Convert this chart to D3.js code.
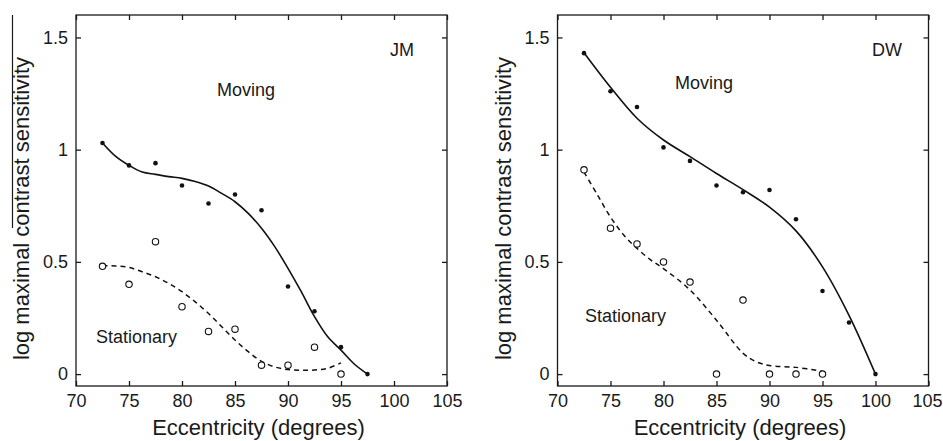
<!DOCTYPE html>
<html>
<head>
<meta charset="utf-8">
<script src="https://cdn.jsdelivr.net/npm/d3@7"></script>
<style>
  body { margin: 0; background: #fff; }
  svg { display: block; font-family: "Liberation Sans", Arial, sans-serif; }
  .tick text { font-family: "Liberation Sans", Arial, sans-serif; font-size: 18px; fill: #1a1a1a; }
  .tick line { stroke: #1a1a1a; stroke-width: 1.3; }
  .frame { fill: none; stroke: #1a1a1a; stroke-width: 1.3; }
  .axis-title { font-size: 22px; fill: #1a1a1a; }
  .note { font-size: 18px; fill: #1a1a1a; }
</style>
</head>
<body>
<svg id="chart" width="943" height="441"></svg>
<script>
// Tick labels
const xTicks = [70, 75, 80, 85, 90, 95, 100, 105];
const yTicks = [0, 0.5, 1, 1.5];

// Eccentricity (deg) of the measurements
const eccentricity = [72.5, 75, 77.5, 80, 82.5, 85, 87.5, 90, 92.5, 95, 97.5, 100];

// Observer JM
const jmMoving     = [1.03, 0.93, 0.94, 0.84, 0.76, 0.80, 0.73, 0.39, 0.28, 0.12, 0.0];
const jmStationary = [0.48, 0.40, 0.59, 0.30, 0.19, 0.20, 0.04, 0.04, 0.12, 0.0];
// fitted curves
const jmMovingFitX = [72.5, 73.75, 75, 76.25, 77.5, 78.75, 80, 81.25, 82.5, 83.75, 85, 86.25, 87.5, 88.75, 90, 91.25, 92.5, 93.75, 95, 96.25, 97.5];
const jmMovingFit  = [1.03, 0.97, 0.93, 0.90, 0.89, 0.88, 0.872, 0.858, 0.838, 0.805, 0.768, 0.716, 0.65, 0.568, 0.471, 0.367, 0.256, 0.166, 0.107, 0.045, 0.0];
const jmStatFitX   = [72.5, 73.75, 75, 76.25, 77.5, 78.75, 80, 81.25, 82.5, 83.75, 85, 86.25, 87.5, 88.75, 90, 91.25, 92.5, 93.75, 95];
const jmStatFit    = [0.483, 0.482, 0.475, 0.456, 0.434, 0.404, 0.367, 0.322, 0.27, 0.211, 0.152, 0.10, 0.057, 0.032, 0.02, 0.017, 0.018, 0.026, 0.05];

// Observer DW
const dwMoving     = [1.43, 1.26, 1.19, 1.01, 0.95, 0.84, 0.81, 0.82, 0.69, 0.37, 0.23, 0.0];
const dwStationary = [0.91, 0.65, 0.58, 0.50, 0.41, 0.0, 0.33, 0.0, 0.0, 0.0];
const dwMovingFitX = [72.5, 75, 77.5, 80, 82.5, 85, 87.5, 90, 92.5, 95, 97.5, 100];
const dwMovingFit  = [1.432, 1.278, 1.14, 1.043, 0.969, 0.894, 0.822, 0.744, 0.638, 0.478, 0.262, 0.0];
const dwStatFitX   = [72.5, 73.75, 75, 76.25, 77.5, 78.75, 80, 82.5, 85, 87.5, 88.75, 90, 92.5, 95];
const dwStatFit    = [0.90, 0.80, 0.70, 0.62, 0.56, 0.51, 0.47, 0.375, 0.24, 0.093, 0.055, 0.038, 0.03, 0.012];

const zip = (xs, ys) => ys.map((v, i) => ({x: xs[i], y: v}));

class EccentricityPanel {

  constructor(_config, _data) {
    this.config = {
      svg: _config.svg,
      left: _config.left,
      top: _config.top || 15,
      width: _config.width || 371,
      height: _config.height || 371,
      labels: _config.labels
    };
    this.data = _data;
    this.initVis();
  }

  initVis() {
    let vis = this;

    vis.xScale = d3.scaleLinear().domain([70, 105]).range([0, vis.config.width]);
    vis.yScale = d3.scaleLinear().domain([-0.053, 1.6]).range([vis.config.height, 0]);

    vis.chart = vis.config.svg.append('g')
      .attr('transform', `translate(${vis.config.left},${vis.config.top})`);

    // inward ticks on all four sides
    const fmt = d => String(d);
    vis.xAxis = d3.axisBottom(vis.xScale).tickValues(xTicks).tickFormat(fmt)
      .tickSizeInner(-5).tickSizeOuter(0).tickPadding(8);
    vis.xAxisTop = d3.axisTop(vis.xScale).tickValues(xTicks).tickFormat('')
      .tickSizeInner(-5).tickSizeOuter(0);
    vis.yAxis = d3.axisLeft(vis.yScale).tickValues(yTicks).tickFormat(fmt)
      .tickSizeInner(-5).tickSizeOuter(0).tickPadding(8);
    vis.yAxisRight = d3.axisRight(vis.yScale).tickValues(yTicks).tickFormat('')
      .tickSizeInner(-5).tickSizeOuter(0);

    vis.chart.append('g').attr('transform', `translate(0,${vis.config.height})`).call(vis.xAxis);
    vis.chart.append('g').call(vis.xAxisTop);
    vis.chart.append('g').call(vis.yAxis);
    vis.chart.append('g').attr('transform', `translate(${vis.config.width},0)`).call(vis.yAxisRight);
    vis.chart.selectAll('.domain').remove();
    vis.chart.selectAll('.tick text')
      .attr('font-family', null).attr('font-size', null);

    vis.chart.append('rect')
      .attr('class', 'frame')
      .attr('width', vis.config.width)
      .attr('height', vis.config.height);

    // Axis titles
    vis.chart.append('text')
      .attr('class', 'axis-title')
      .attr('text-anchor', 'middle')
      .attr('x', vis.config.width / 2 - 3)
      .attr('y', vis.config.height + 49)
      .text('Eccentricity (degrees)');

    vis.chart.append('text')
      .attr('class', 'axis-title')
      .attr('text-anchor', 'middle')
      .attr('transform', `translate(-47,${vis.config.height / 2 + 8}) rotate(-90)`)
      .text('log maximal contrast sensitivity');
  }

  renderVis() {
    let vis = this;
    const line = d3.line()
      .x(d => vis.xScale(d.x))
      .y(d => vis.yScale(d.y))
      .curve(d3.curveCatmullRom.alpha(0.5));

    vis.chart.append('path')
      .datum(vis.data.movingFit)
      .attr('d', line)
      .attr('fill', 'none')
      .attr('stroke', '#111')
      .attr('stroke-width', 1.6);

    vis.chart.append('path')
      .datum(vis.data.stationaryFit)
      .attr('d', line)
      .attr('fill', 'none')
      .attr('stroke', '#111')
      .attr('stroke-width', 1.5)
      .attr('stroke-dasharray', '5,4');

    vis.chart.selectAll('.moving')
      .data(vis.data.moving)
      .join('circle')
      .attr('class', 'moving')
      .attr('cx', d => vis.xScale(d.x))
      .attr('cy', d => vis.yScale(d.y))
      .attr('r', 2.3)
      .attr('fill', '#111');

    vis.chart.selectAll('.stationary')
      .data(vis.data.stationary)
      .join('circle')
      .attr('class', 'stationary')
      .attr('cx', d => vis.xScale(d.x))
      .attr('cy', d => vis.yScale(d.y))
      .attr('r', 3.2)
      .attr('fill', '#fff')
      .attr('stroke', '#111')
      .attr('stroke-width', 1.1);

    // Panel annotations
    vis.config.labels.forEach(l => {
      vis.chart.append('text')
        .attr('class', 'note')
        .attr('x', l.x - vis.config.left)
        .attr('y', l.y - vis.config.top)
        .text(l.text);
    });
  }
}

const svg = d3.select('#chart');

const jm = new EccentricityPanel({
  svg: svg,
  left: 76,
  labels: [
    {text: 'JM', x: 390, y: 56},
    {text: 'Moving', x: 217, y: 96},
    {text: 'Stationary', x: 96, y: 343}
  ]
}, {
  moving: zip(eccentricity, jmMoving),
  stationary: zip(eccentricity, jmStationary),
  movingFit: zip(jmMovingFitX, jmMovingFit),
  stationaryFit: zip(jmStatFitX, jmStatFit)
});
jm.renderVis();

const dw = new EccentricityPanel({
  svg: svg,
  left: 557.5,
  labels: [
    {text: 'DW', x: 872, y: 56},
    {text: 'Moving', x: 675, y: 89},
    {text: 'Stationary', x: 585, y: 322}
  ]
}, {
  moving: zip(eccentricity, dwMoving),
  stationary: zip(eccentricity, dwStationary),
  movingFit: zip(dwMovingFitX, dwMovingFit),
  stationaryFit: zip(dwStatFitX, dwStatFit)
});
dw.renderVis();

// the last x label of the right panel sits against the page edge
dw.chart.selectAll('.tick text').filter(d => d === 105).attr('dx', -1.5);

// stray rule beside the left y title in the source figure
svg.append('line')
  .attr('x1', 12.5).attr('x2', 12.5)
  .attr('y1', 15).attr('y2', 228)
  .attr('stroke', '#1a1a1a')
  .attr('stroke-width', 1.2);
</script>
</body>
</html>
